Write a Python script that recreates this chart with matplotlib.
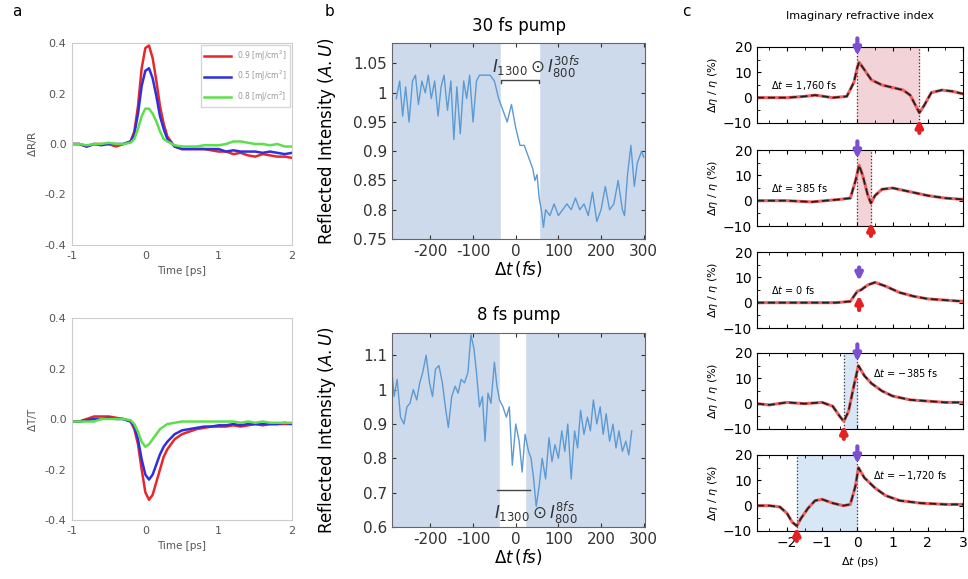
import numpy as np
import matplotlib
matplotlib.use("Agg")
import matplotlib.pyplot as plt
from matplotlib.ticker import FuncFormatter, MultipleLocator, FormatStrFormatter

# ---- panel a : pump-probe traces ----
t_a = [-1, -0.9, -0.8, -0.7, -0.6, -0.5, -0.4, -0.3, -0.2, -0.15, -0.1, -0.05, 0, 0.05, 0.1,
       0.15, 0.2, 0.25, 0.3, 0.4, 0.5, 0.6, 0.7, 0.8, 0.9, 1.0, 1.1, 1.2, 1.3, 1.4, 1.5,
       1.6, 1.7, 1.8, 1.9, 2.0]
dR_red = [0, 0.0, -0.01, 0, 0, 0, -0.01, 0, 0.01, 0.05, 0.15, 0.3, 0.38, 0.39, 0.34,
          0.25, 0.15, 0.08, 0.03, -0.01, -0.02, -0.02, -0.02, -0.02, -0.025, -0.03, -0.03,
          -0.04, -0.035, -0.045, -0.05, -0.04, -0.045, -0.05, -0.05, -0.055]
dR_blue = [0, 0.0, -0.01, 0, -0.005, 0, 0, 0, 0.01, 0.04, 0.12, 0.23, 0.29, 0.3, 0.26,
           0.19, 0.11, 0.06, 0.02, -0.01, -0.02, -0.02, -0.02, -0.02, -0.02, -0.02, -0.03,
           -0.025, -0.03, -0.03, -0.03, -0.035, -0.03, -0.035, -0.04, -0.035]
dR_green = [0, 0.0, -0.005, 0, 0, 0.005, 0, 0, 0.005, 0.02, 0.06, 0.11, 0.14, 0.14, 0.12,
            0.09, 0.05, 0.02, 0.01, -0.005, -0.01, -0.01, -0.01, -0.005, -0.005, -0.005, 0.0,
            0.01, 0.01, 0.005, 0.0, 0.0, -0.005, 0.0, -0.01, -0.01]
dT_red = [-0.01, -0.01, 0, 0.01, 0.01, 0.01, 0.005, 0.0, -0.01, -0.04, -0.1, -0.2, -0.29,
          -0.32, -0.3, -0.25, -0.2, -0.15, -0.12, -0.08, -0.06, -0.05, -0.04, -0.035,
          -0.03, -0.03, -0.03, -0.025, -0.03, -0.025, -0.02, -0.025, -0.02, -0.02,
          -0.02, -0.02]
dT_blue = [-0.01, -0.01, -0.005, 0, 0.0, 0.005, 0.0, 0.0, -0.01, -0.03, -0.08, -0.16,
           -0.22, -0.24, -0.22, -0.18, -0.14, -0.11, -0.09, -0.06, -0.045, -0.04, -0.035,
           -0.03, -0.03, -0.025, -0.025, -0.02, -0.025, -0.02, -0.02, -0.02, -0.02,
           -0.02, -0.015, -0.02]
dT_green = [-0.01, -0.01, -0.01, -0.01, 0.0, 0.0, 0.0, 0.0, -0.005, -0.02, -0.05, -0.09,
            -0.11, -0.1, -0.08, -0.06, -0.04, -0.03, -0.02, -0.015, -0.01, -0.01, -0.01,
            -0.01, -0.01, -0.01, -0.01, -0.01, -0.015, -0.01, -0.015, -0.01, -0.015,
            -0.015, -0.015, -0.015]
fluence_labels = ["0.9 [mJ/cm$^2$]", "0.5 [mJ/cm$^2$]", "0.8 [mJ/cm$^2$]"]

# ---- panel b : reflected intensity ----
t_b30 = [-280, -272, -265, -258, -250, -242, -235, -228, -220, -212, -205, -198, -190, -182,
         -175, -168, -160, -152, -145, -138, -130, -122, -115, -108, -100, -92, -85, -78,
         -70, -60, -50, -40, -30, -20, -10, 0, 10, 20, 30, 40, 45, 50, 55, 60, 65, 70, 80,
         90, 100, 110, 120, 130, 140, 150, 160, 170, 180, 190, 200, 210, 220, 230, 240,
         250, 255, 262, 270, 278, 285, 295, 300]
I_b30 = [0.99, 1.02, 0.96, 1.01, 0.95, 1.02, 1.03, 0.98, 1.02, 1.00, 1.03, 0.99, 1.02, 0.96,
         1.01, 1.03, 0.97, 1.02, 0.92, 1.01, 0.93, 1.02, 0.99, 1.03, 0.95, 1.02, 1.03, 1.03,
         1.03, 1.03, 1.02, 0.99, 0.97, 0.95, 0.98, 0.94, 0.91, 0.91, 0.89, 0.87, 0.85, 0.86,
         0.82, 0.80, 0.77, 0.80, 0.79, 0.81, 0.79, 0.80, 0.81, 0.80, 0.82, 0.80, 0.81, 0.79,
         0.83, 0.78, 0.80, 0.84, 0.80, 0.81, 0.85, 0.80, 0.79, 0.86, 0.91, 0.84, 0.88, 0.90,
         0.89]
t_b8 = [-290, -285, -278, -270, -262, -255, -248, -240, -232, -225, -218, -210, -202, -195,
        -188, -180, -172, -165, -158, -150, -142, -135, -128, -120, -112, -105, -98, -92,
        -85, -78, -72, -65, -58, -50, -44, -38, -30, -22, -15, -8, 0, 8, 15, 22, 30, 36, 42,
        48, 55, 62, 70, 78, 85, 92, 100, 108, 115, 122, 130, 138, 145, 152, 160, 168, 175,
        182, 190, 198, 205, 212, 220, 228, 235, 242, 250, 258, 265, 272]
I_b8 = [1.05, 0.98, 1.03, 0.92, 0.90, 0.95, 0.96, 1.00, 0.97, 1.02, 1.05, 1.10, 1.02, 0.98,
        1.06, 1.07, 1.02, 0.95, 0.89, 0.98, 1.01, 0.99, 1.03, 1.02, 1.05, 1.16, 1.12, 1.05,
        0.95, 0.98, 0.85, 0.99, 0.96, 1.08, 1.01, 0.97, 0.95, 0.92, 0.95, 0.78, 0.90, 0.85,
        0.76, 0.87, 0.82, 0.80, 0.74, 0.66, 0.72, 0.80, 0.74, 0.86, 0.79, 0.84, 0.80, 0.88,
        0.82, 0.90, 0.74, 0.88, 0.83, 0.94, 0.87, 0.92, 0.88, 0.97, 0.90, 0.95, 0.87, 0.93,
        0.85, 0.90, 0.83, 0.88, 0.82, 0.85, 0.81, 0.88]
window30 = (-35, 55)
window8 = (-38, 22)

# ---- panel c : imaginary refractive index ----
c_delays = [1.76, 0.385, 0.0, -0.385, -1.72]
c_labels = ["$\\Delta t$ = 1,760 fs", "$\\Delta t$ = 385 fs", "$\\Delta t$ = 0 fs",
            "$\\Delta t$ = \u2212385 fs", "$\\Delta t$ = \u22121,720 fs"]
c_t = [
    [-2.85, -2.0, -1.5, -1.2, -0.7, -0.3, -0.1, 0.0, 0.05, 0.2, 0.4, 0.7, 1.0, 1.3, 1.5,
     1.65, 1.76, 1.9, 2.1, 2.4, 2.7, 3.0],
    [-2.85, -2.0, -1.3, -0.5, -0.2, -0.05, 0.05, 0.15, 0.3, 0.385, 0.5, 0.7, 1.0, 1.5,
     2.0, 2.5, 3.0],
    [-2.85, -1.5, -0.6, -0.2, 0.0, 0.1, 0.3, 0.5, 0.8, 1.2, 1.6, 2.0, 2.5, 3.0],
    [-2.85, -2.5, -2.0, -1.5, -1.0, -0.7, -0.5, -0.385, -0.25, -0.1, 0.03, 0.2, 0.4, 0.7,
     1.0, 1.5, 2.0, 2.5, 3.0],
    [-2.85, -2.5, -2.2, -2.0, -1.85, -1.72, -1.6, -1.4, -1.2, -1.0, -0.7, -0.4, -0.2,
     -0.05, 0.03, 0.2, 0.5, 0.8, 1.2, 1.8, 2.5, 3.0],
]
c_v = [
    [0, 0, 0.5, 1, 0, 0.5, 6, 12, 14, 11, 7, 5, 4, 3, 1, -3, -6, -3, 2, 3, 2.5, 1.5],
    [0, 0, -0.5, 0.5, 1, 8, 14, 10, 2, -1, 2, 4.5, 5, 3.5, 2, 1, 0.5],
    [0, 0, 0, 0.5, 4.5, 5, 7, 8, 6.5, 4, 2.5, 1.5, 1, 0.5],
    [0, -0.5, 0.5, 0, 0.5, -1, -5, -7, -3, 7, 15, 11, 8, 5, 3, 1.5, 1, 0.5, 0.5],
    [0, 0, -0.5, -3, -6.5, -8, -5, -1, 2, 2.5, 1, 0, 0.5, 8, 15, 11, 7, 4, 2, 1, 0.5, 0.5],
]

W, H = 968, 579
fig = plt.figure(figsize=(W / 100, H / 100), dpi=100)


def box(x0, y0, x1, y1):
    return [x0 / W, 1 - y1 / H, (x1 - x0) / W, (y1 - y0) / H]


grey = "#555555"
red, blue, green = "#e8272b", "#2f2fe0", "#5ce04a"

# panel a
for k, (yvals, ylab) in enumerate([((dR_red, dR_blue, dR_green), "$\\Delta$R/R"),
                                   ((dT_red, dT_blue, dT_green), "$\\Delta$T/T")]):
    ax = fig.add_axes(box(72, 43 + 275 * k, 292, 245 + 275 * k))
    for vals, col, lab in zip(yvals, (red, blue, green), fluence_labels):
        ax.plot(t_a, vals, color=col, lw=1.8, label=lab)
    ax.set_xlim(-1, 2)
    ax.set_ylim(-0.4, 0.4)
    ax.set_xticks([-1, 0, 1, 2])
    ax.set_yticks([-0.4, -0.2, 0, 0.2, 0.4])
    ax.yaxis.set_major_formatter(FormatStrFormatter("%.1f"))
    ax.xaxis.set_major_formatter(FuncFormatter(lambda v, p: "%d" % v))
    ax.tick_params(length=0, labelsize=8, colors=grey, pad=4)
    for s in ax.spines.values():
        s.set_color("#cccccc")
    ax.set_xlabel("Time [ps]", fontsize=7.5, color=grey)
    ax.set_ylabel(ylab, fontsize=7.5, color=grey)
    if k == 0:
        ax.legend(loc="upper right", fontsize=5.5, frameon=True, fancybox=False,
                  edgecolor="#cccccc", handlelength=3.5, labelcolor="#999999",
                  borderaxespad=0.3, labelspacing=0.8)

# panel b
bg = "#cddaeb"
lc = "#5b9ad4"
gfmt = FuncFormatter(lambda v, p: "%g" % v)
specs = [
    (box(392, 43, 645, 239), t_b30, I_b30, window30, (0.75, 1.085),
     [0.75, 0.8, 0.85, 0.9, 0.95, 1, 1.05], "30 fs pump"),
    (box(392, 333, 645, 527), t_b8, I_b8, window8, (0.6, 1.165),
     [0.6, 0.7, 0.8, 0.9, 1, 1.1], "8 fs pump"),
]
for k, (rect, tt, ii, win, ylim, yt, title) in enumerate(specs):
    ax = fig.add_axes(rect)
    ax.set_facecolor(bg)
    ax.axvspan(win[0], win[1], color="white", zorder=0)
    ax.plot(tt, ii, color=lc, lw=1.0)
    ax.set_xlim(-290, 303)
    ax.set_ylim(*ylim)
    ax.set_xticks([-200, -100, 0, 100, 200, 300])
    ax.set_yticks(yt)
    ax.xaxis.set_major_formatter(gfmt)
    ax.yaxis.set_major_formatter(gfmt)
    ax.tick_params(direction="in", length=3, labelsize=11, colors="#333333",
                   top=True, right=True)
    for s in ax.spines.values():
        s.set_color("#666666")
    ax.set_title(title, fontsize=12, pad=9)
    ax.set_xlabel("$\\Delta t\\,(fs)$", fontsize=12, labelpad=0)
    ax.set_ylabel("Reflected Intensity $(A.U)$", fontsize=12)
    ax.yaxis.set_label_coords(-0.215, 0.5)
    if k == 0:
        yb = 1.022
        ax.plot([win[0], win[0], win[1], win[1]], [yb - 0.006, yb, yb, yb - 0.006],
                color="#444444", lw=1)
        ax.text(48, 1.045, "$I_{1300}\\odot I_{800}^{30fs}$", fontsize=12,
                ha="center", va="center", color="#333333")
    else:
        ax.plot([win[0] - 5, win[1] + 12], [0.708, 0.708], color="#444444", lw=1)
        ax.text(48, 0.64, "$I_{1300}\\odot I_{800}^{8fs}$", fontsize=12,
                ha="center", va="center", color="#333333")

# panel c
tops = [47, 150, 252, 353, 455]
pink, lblue = "#f2d3d8", "#d7e7f6"
for k in range(5):
    ax = fig.add_axes(box(757, tops[k], 963, tops[k] + 76))
    d = c_delays[k]
    if d > 0:
        ax.axvspan(0, d, color=pink, zorder=0)
    elif d < 0:
        ax.axvspan(d, 0, color=lblue, zorder=0)
    if d != 0:
        ax.axvline(0, color="#333333", ls=":", lw=0.9)
        ax.axvline(d, color="#333333", ls=":", lw=0.9)
    ax.plot(c_t[k], c_v[k], color="#f06060", lw=2.2)
    ax.plot(c_t[k], c_v[k], color="#222222", lw=1.3, ls=(0, (4, 2)))
    ax.set_xlim(-2.85, 3)
    ax.set_ylim(-10, 20)
    ax.set_yticks([-10, 0, 10, 20])
    ax.xaxis.set_major_locator(MultipleLocator(1))
    ax.xaxis.set_minor_locator(MultipleLocator(0.5))
    ax.yaxis.set_minor_locator(MultipleLocator(5))
    ax.tick_params(which="both", direction="in", top=True, right=True, labelsize=10)
    ax.tick_params(which="major", length=3)
    ax.tick_params(which="minor", length=2)
    ax.set_ylabel("$\\Delta\\eta$ / $\\eta$ (%)", fontsize=8, labelpad=2)
    if k < 4:
        ax.tick_params(labelbottom=False)
    else:
        ax.set_xlabel("$\\Delta t$ (ps)", fontsize=8)
    purple_arrow = dict(arrowstyle="-|>", color="#7b4fd0", lw=3, mutation_scale=10)
    red_arrow = dict(arrowstyle="-|>", color="#e42020", lw=3, mutation_scale=10)
    if d == 0:
        ax.annotate("", xy=(0.05, 7.5), xytext=(0.05, 15), arrowprops=purple_arrow)
        ax.annotate("", xy=(0.05, 4), xytext=(0.05, -4), arrowprops=red_arrow)
    else:
        ax.annotate("", xy=(0.0, 15.5), xytext=(0.0, 24.5), annotation_clip=False,
                    arrowprops=purple_arrow)
        ax.annotate("", xy=(d, -7.5), xytext=(d, -15), annotation_clip=False,
                    arrowprops=red_arrow)
    if d >= 0:
        ax.text(-2.45, 5, c_labels[k], fontsize=7, va="center")
    else:
        ax.text(0.45, 12, c_labels[k], fontsize=7, va="center")
    if k == 0:
        ax.set_title("Imaginary refractive index", fontsize=8, pad=20)

fig.text(12 / W, 1 - 12 / H, "a", fontsize=11, va="center")
fig.text(325 / W, 1 - 12 / H, "b", fontsize=11, va="center")
fig.text(682 / W, 1 - 12 / H, "c", fontsize=11, va="center")

fig.savefig("out.png", dpi=100)
